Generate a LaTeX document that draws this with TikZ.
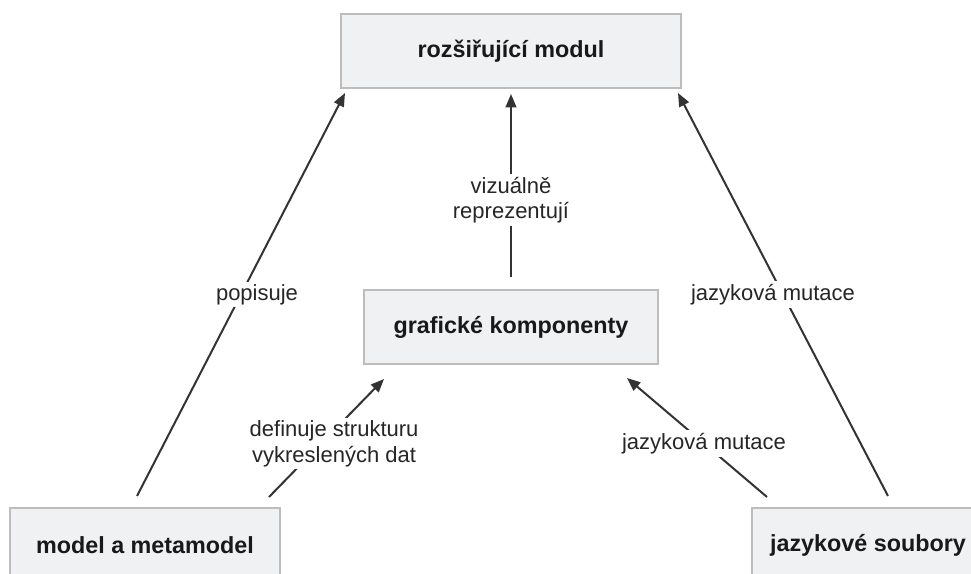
\documentclass[tikz,border=0pt]{standalone}
\usepackage{fontspec}
\setmainfont{Liberation Sans}
\usetikzlibrary{arrows.meta}
\definecolor{boxfill}{HTML}{F0F1F3}
\definecolor{boxline}{HTML}{BDBDBD}
\definecolor{arrline}{HTML}{333333}
\begin{document}
\begin{tikzpicture}[x=0.75pt,y=-0.75pt,
    box/.style={draw=boxline,line width=1.5pt,fill=boxfill,minimum height=55.5pt,
        inner sep=0pt,font=\fontsize{17.5}{21}\selectfont\bfseries,text=black!90},
    arr/.style={draw=arrline,line width=1.5pt,-{Triangle[length=10pt,width=8pt]}},
    lbl/.style={fill=white,inner sep=2pt,align=center,
        font=\fontsize{16.5}{19}\selectfont,text=black!85}]
    \useasboundingbox (0,0) rectangle (971,574);
    \node[box,minimum width=255pt] (modul) at (511,51) {rozšiřující modul};
    \node[box,minimum width=220.5pt] (komp) at (511,327) {grafické komponenty};
    \node[box,minimum width=202.5pt] (model) at (145,545) {model a metamodel};
    \node[box,minimum width=174pt] (soubory) at (868,545) {jazykové soubory};
    % arrows
    \draw[arr] ([xshift=-6pt,yshift=8.25pt]model.north) -- ([xshift=3.75pt,yshift=-3pt]modul.south west)
        node[lbl,pos=0.5,xshift=12pt] {popisuje};
    \draw[arr] ([xshift=-9pt,yshift=7.5pt]model.north east) -- ([xshift=15.75pt,yshift=-10.5pt]komp.south west)
        node[lbl,pos=0.45,xshift=10pt] {definuje strukturu\\vykreslených dat};
    \draw[arr] ([yshift=9pt]komp.north) -- ([yshift=-3.75pt]modul.south)
        node[lbl,pos=0.42] {vizuálně\\reprezentují};
    \draw[arr] ([xshift=12pt,yshift=7.5pt]soubory.north west) -- ([xshift=-24pt,yshift=-9.75pt]komp.south east)
        node[lbl,pos=0.45] {jazyková mutace};
    \draw[arr] ([xshift=15pt,yshift=8.25pt]soubory.north) -- ([xshift=-3pt,yshift=-3pt]modul.south east)
        node[lbl,pos=0.5,xshift=-7.5pt] {jazyková mutace};
\end{tikzpicture}
\end{document}
